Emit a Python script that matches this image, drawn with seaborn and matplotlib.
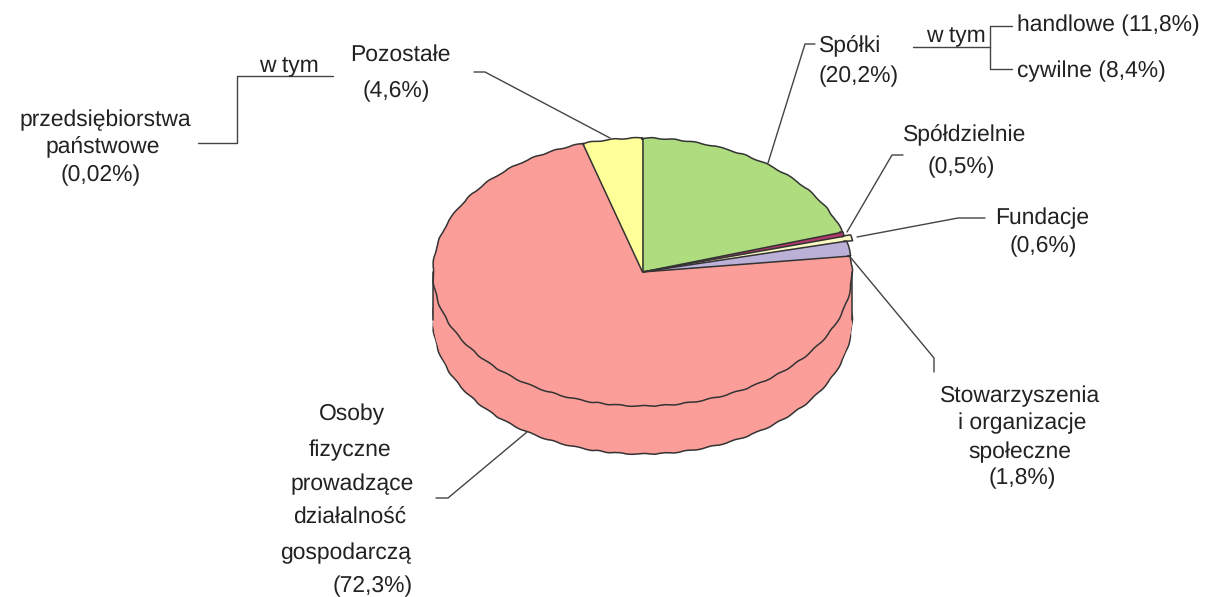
import numpy as np
import matplotlib
matplotlib.use('Agg')
import matplotlib.pyplot as plt
import seaborn as sns

# Slices clockwise from the top
slices = ['Spółki', 'Spółdzielnie', 'Fundacje', 'Stowarzyszenia', 'Osoby fizyczne', 'Pozostałe']
shares = [20.2, 0.5, 0.6, 1.8, 72.3, 4.6]
slice_colors = ['#AEDC7F', '#B03A6A', '#FAFAC4', '#BBB0D8', '#FB9E9A', '#FFFF99']
exploded = [0, 0, 0.03, 0, 0, 0]

# label texts: (text, x px, y px, ha)
label_texts = [
    ('Pozostałe', 400, 55, 'center'), ('(4,6%)', 396, 91, 'center'),
    ('w tym', 289, 66, 'center'),
    ('przedsiębiorstwa', 105, 120, 'center'), ('państwowe', 103, 147, 'center'), ('(0,02%)', 101, 175, 'center'),
    ('Spółki', 819, 46, 'left'), ('(20,2%)', 819, 76, 'left'),
    ('w tym', 956, 36, 'center'),
    ('handlowe (11,8%)', 1017, 25, 'left'), ('cywilne (8,4%)', 1017, 71, 'left'),
    ('Spółdzielnie', 965, 135, 'center'), ('(0,5%)', 961, 167, 'center'),
    ('Fundacje', 1042, 218, 'center'), ('(0,6%)', 1043, 246, 'center'),
    ('Stowarzyszenia', 1020, 396, 'center'), ('i organizacje', 1022, 423, 'center'),
    ('społeczne', 1020, 452, 'center'), ('(1,8%)', 1022, 478, 'center'),
    ('Osoby', 352, 414, 'center'), ('fizyczne', 350, 450, 'center'), ('prowadzące', 352, 484, 'center'),
    ('działalność', 350, 518, 'center'), ('gospodarczą', 346, 553, 'center'), ('(72,3%)', 373, 586, 'center'),
]
leader_lines = [
    ([474, 485, 610], [72, 72, 138]),
    ([198, 237, 237, 333], [143, 143, 76, 76]),
    ([815, 805, 768], [44, 44, 163]),
    ([913, 990], [47, 47]),
    ([1012, 990, 990, 1012], [26, 26, 69, 69]),
    ([903, 892, 847], [155, 155, 232]),
    ([985, 958, 857], [218, 218, 237]),
    ([934, 934, 851], [372, 358, 258]),
    ([436, 448, 527], [498, 498, 432]),
]

W, H = 1214, 597
cx, cy, rx, ry = 642.5, 272, 209.5, 134
depth = 48 / ry

sns.set_theme(style='white')
plt.rcParams['font.family'] = ['Liberation Sans', 'DejaVu Sans']
plt.rcParams['text.hinting'] = 'no_hinting'
palette = sns.color_palette(slice_colors)
edge = '#333333'
pie_args = dict(colors=palette, startangle=90, counterclock=False)

fig = plt.figure(figsize=(W / 100, H / 100), dpi=100)
# the pie axes is scaled so a unit circle comes out as the flat ellipse
ax = fig.add_axes([0, 0, 1, 1])
bottom, _ = ax.pie(shares, center=(0, -depth), wedgeprops={'edgecolor': edge, 'linewidth': 1.1}, **pie_args)
for w in bottom:
    w.set_sketch_params(0.5, 25, 2)
# stacked copies make the rim
for off in np.linspace(depth - 2.5 / ry, 1 / ry, 46):
    ax.pie(shares, center=(0, -off), wedgeprops={'linewidth': 0}, **pie_args)
top, _ = ax.pie(shares, explode=exploded, wedgeprops={'edgecolor': edge, 'linewidth': 1.1}, **pie_args)
for w in top:
    w.set_sketch_params(0.5, 25, 2)
# clean fill hides the wobble on the spokes, then straight spokes
ax.pie(shares, radius=0.985, wedgeprops={'linewidth': 0}, **pie_args)
angles = np.radians(90 - 3.6 * np.cumsum([0] + shares[:-1]))
for a in angles:
    ax.plot([0, 0.995 * np.cos(a)], [0, 0.995 * np.sin(a)], color=edge, lw=1.1, solid_capstyle='butt')
ax.plot([-1, -1], [0, -depth], color=edge, lw=1.1)
ax.plot([1, 1], [0, -depth], color=edge, lw=1.1)
ax.set_aspect('auto')
ax.set_xlim(-cx / rx, (W - cx) / rx)
ax.set_ylim(-(H - cy) / ry, cy / ry)

# overlay in pixel coordinates for the labels
over = fig.add_axes([0, 0, 1, 1])
over.set_xlim(0, W)
over.set_ylim(H, 0)
over.axis('off')
for xs, ys in leader_lines:
    over.plot(xs, ys, color='#444444', lw=1.0)
for txt, x, y, ha in label_texts:
    over.text(x, y, txt, ha=ha, va='center', fontsize=16.5, color='#222222')

fig.savefig('out.png', dpi=100)
